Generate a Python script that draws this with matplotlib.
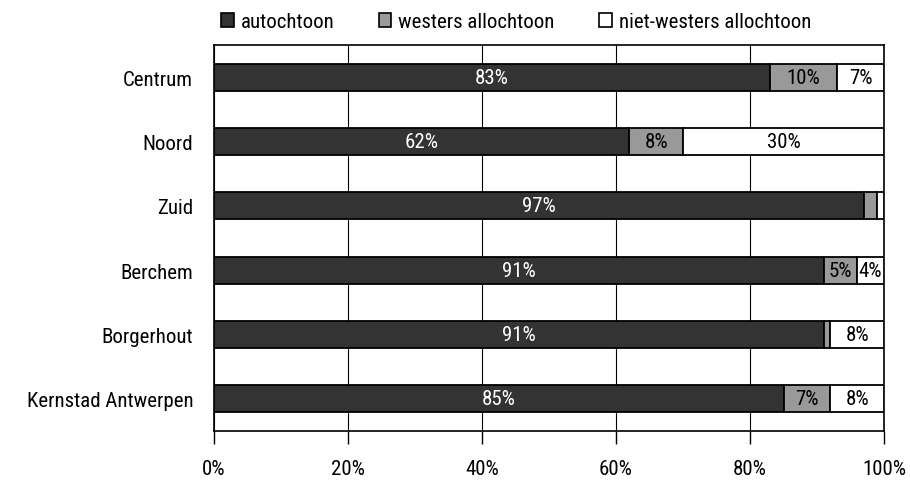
import matplotlib
matplotlib.use("Agg")
import matplotlib.pyplot as plt
from matplotlib.patches import Patch
import numpy as np

plt.rcParams['font.family'] = ['Roboto Condensed', 'DejaVu Sans']

categories = ["Centrum", "Noord", "Zuid", "Berchem", "Borgerhout", "Kernstad Antwerpen"]
series_names = ["autochtoon", "westers allochtoon", "niet-westers allochtoon"]
autochtoon = [83, 62, 97, 91, 91, 85]
westers = [10, 8, 2, 5, 1, 7]
niet_westers = [7, 30, 1, 4, 8, 8]
x_ticks = [0, 20, 40, 60, 80, 100]
x_tick_labels = ["0%", "20%", "40%", "60%", "80%", "100%"]

colors = ["#333333", "#999999", "#ffffff"]
text_colors = ["white", "black", "black"]
fs = 15

fig = plt.figure(figsize=(9.1, 4.81), dpi=100)
ax = fig.add_axes([214/910, 1 - 432/481, (884-214)/910, (432-46)/481])

y = np.arange(len(categories))
left = np.zeros(len(categories))
for vals, col, tcol in zip([autochtoon, westers, niet_westers], colors, text_colors):
    vals = np.array(vals, dtype=float)
    ax.barh(y, vals, left=left, height=0.42, color=col, edgecolor="black", linewidth=1.3, zorder=3)
    for yi, l, v in zip(y, left, vals):
        if v >= 4:
            ax.text(l + v / 2, yi, f"{int(v)}%", ha="center", va="center", color=tcol, fontsize=fs, zorder=4)
    left += vals

ax.set_xlim(0, 100)
ax.set_ylim(len(categories) - 0.5, -0.5)
ax.set_yticks(y)
ax.set_yticklabels(categories, fontsize=fs)
ax.set_xticks(x_ticks)
ax.set_xticklabels(x_tick_labels, fontsize=fs)
ax.tick_params(axis="y", length=0, pad=15)
ax.tick_params(axis="x", length=9, width=1, direction="out", pad=11)
ax.grid(axis="x", color="black", linewidth=0.8, zorder=0)
for s in ax.spines.values():
    s.set_color("black")
    s.set_linewidth(1.2)

handles = [Patch(facecolor=c, edgecolor="black", linewidth=1.2) for c in colors]
fig.legend(handles, series_names, loc="center", bbox_to_anchor=(516/910, 1 - 23/481), ncol=3,
           frameon=False, fontsize=fs, handlelength=0.62, handleheight=0.62, columnspacing=2.1,
           handletextpad=0.34, borderpad=0, borderaxespad=0)

fig.savefig("out.png", dpi=100)
